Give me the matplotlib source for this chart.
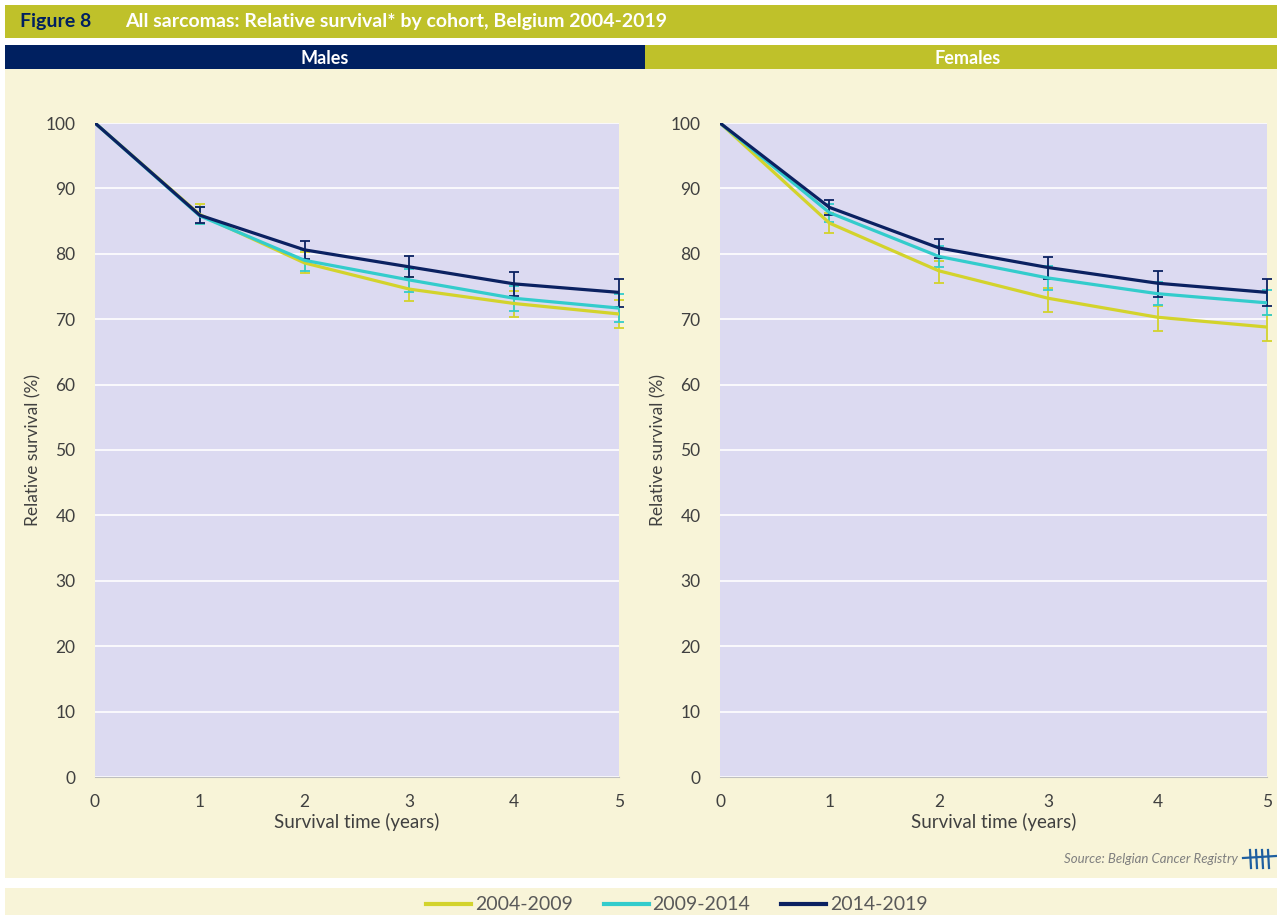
import numpy as np
import matplotlib
matplotlib.use("Agg")
import matplotlib.pyplot as plt
from matplotlib.patches import Rectangle
from matplotlib.lines import Line2D

plt.rcParams['font.family'] = ['Lato', 'DejaVu Sans']

years = [0, 1, 2, 3, 4, 5]
cohorts = ["2004-2009", "2009-2014", "2014-2019"]
colors = ["#d3d32c", "#33cccc", "#0b2161"]

# males: estimate, lower, upper
m_est = {
    "2004-2009": [100, 86.0, 78.6, 74.6, 72.4, 70.8],
    "2009-2014": [100, 85.8, 79.0, 76.0, 73.2, 71.7],
    "2014-2019": [100, 85.9, 80.6, 78.0, 75.4, 74.1],
}
m_low = {
    "2004-2009": [100, 84.6, 77.0, 72.8, 70.3, 68.6],
    "2009-2014": [100, 84.5, 77.4, 74.2, 71.3, 69.6],
    "2014-2019": [100, 84.7, 79.2, 76.4, 73.5, 71.9],
}
m_up = {
    "2004-2009": [100, 87.6, 80.2, 76.4, 74.3, 72.9],
    "2009-2014": [100, 87.2, 80.6, 77.7, 75.1, 73.8],
    "2014-2019": [100, 87.2, 82.0, 79.7, 77.2, 76.1],
}
# females
f_est = {
    "2004-2009": [100, 84.7, 77.4, 73.2, 70.3, 68.8],
    "2009-2014": [100, 86.3, 79.6, 76.3, 73.9, 72.5],
    "2014-2019": [100, 87.1, 80.9, 77.9, 75.5, 74.1],
}
f_low = {
    "2004-2009": [100, 83.2, 75.5, 71.1, 68.2, 66.7],
    "2009-2014": [100, 84.9, 78.0, 74.4, 72.1, 70.6],
    "2014-2019": [100, 85.9, 79.3, 76.2, 73.4, 72.0],
}
f_up = {
    "2004-2009": [100, 86.2, 78.9, 74.7, 72.0, 70.6],
    "2009-2014": [100, 87.6, 81.2, 78.2, 75.7, 74.4],
    "2014-2019": [100, 88.3, 82.3, 79.5, 77.3, 76.1],
}

W, H = 1277, 915
fig = plt.figure(figsize=(W / 100, H / 100), dpi=100)
fig.patch.set_facecolor("white")

def box(x, y, w, h, c):
    fig.add_artist(Rectangle((x / W, 1 - (y + h) / H), w / W, h / H,
                             transform=fig.transFigure, facecolor=c,
                             edgecolor="none", zorder=0))

olive = "#bfc12a"
navy = "#002060"
cream = "#f8f4d8"
box(5, 5, 1272, 33, olive)
box(5, 45, 640, 24, navy)
box(645, 45, 632, 24, olive)
box(5, 69, 1272, 809, cream)
box(5, 888, 1272, 27, cream)

fig.text(20 / W, 1 - 22 / H, "Figure 8", color=navy, fontsize=14,
         fontweight="bold", va="center")
fig.text(125 / W, 1 - 21 / H,
         "All sarcomas: Relative survival* by cohort, Belgium 2004-2019",
         color="white", fontsize=14, fontweight="bold", va="center")
fig.text(325 / W, 1 - 58 / H, "Males", color="white", fontsize=13,
         fontweight="bold", ha="center", va="center")
fig.text(968 / W, 1 - 58 / H, "Females", color="white", fontsize=13,
         fontweight="bold", ha="center", va="center")

def panel(rect, est, low, up):
    ax = fig.add_axes(rect)
    ax.set_facecolor("#dcdaf1")
    for c, col in zip(cohorts, colors):
        e = np.array(est[c])
        lo = e - np.array(low[c])
        hi = np.array(up[c]) - e
        ax.errorbar(years[1:], e[1:], yerr=[lo[1:], hi[1:]], fmt="none",
                    ecolor=col, elinewidth=1.3, capsize=3.5, capthick=1.3,
                    zorder=3, clip_on=False)
        ax.plot(years, e, color=col, lw=2.3, label=c, zorder=4,
                solid_capstyle="round")
    ax.set_xlim(0, 5)
    ax.set_ylim(0, 100)
    ax.set_yticks(range(0, 101, 10))
    ax.set_xticks(years)
    ax.yaxis.grid(True, color="white", lw=1.2)
    ax.set_axisbelow(True)
    for s in ["top", "right", "left"]:
        ax.spines[s].set_visible(False)
    ax.spines["bottom"].set_color("#bfbfbf")
    ax.tick_params(length=0, labelsize=12.5, colors="#404040")
    ax.tick_params(axis="y", pad=14)
    ax.tick_params(axis="x", pad=12)
    ax.set_xlabel("Survival time (years)", fontsize=13.5, color="#404040",
                  labelpad=2)
    ax.set_ylabel("Relative survival (%)", fontsize=12.5, color="#404040",
                  labelpad=3)
    return ax

ax1 = panel([95 / W, 1 - 777 / H, 524 / W, 654 / H], m_est, m_low, m_up)
ax2 = panel([720 / W, 1 - 777 / H, 547 / W, 654 / H], f_est, f_low, f_up)

# source line
fig.text(1238 / W, 1 - 859 / H, "Source: Belgian Cancer Registry",
         color="#7f7f7f", fontsize=9.5, style="italic", ha="right", va="center")
logo = "#1f5fa0"
for xx in [1250, 1256, 1262, 1268]:
    fig.add_artist(Line2D([xx / W, (xx + 1) / W], [1 - 850 / H, 1 - 868 / H],
                          color=logo, lw=1.6, transform=fig.transFigure))
fig.add_artist(Line2D([1243 / W, 1276 / W], [1 - 858 / H, 1 - 856 / H],
                      color=logo, lw=1.6, transform=fig.transFigure))

handles = [Line2D([], [], color=c, lw=3) for c in colors]
leg = fig.legend(handles, cohorts, loc="center", ncol=3,
                 bbox_to_anchor=(677 / W, 1 - 905 / H), frameon=False,
                 fontsize=14, handlelength=2.3, handletextpad=0.2,
                 columnspacing=1.6)
for t in leg.get_texts():
    t.set_color("#595959")

fig.savefig("out.png", dpi=100, facecolor=fig.get_facecolor())
